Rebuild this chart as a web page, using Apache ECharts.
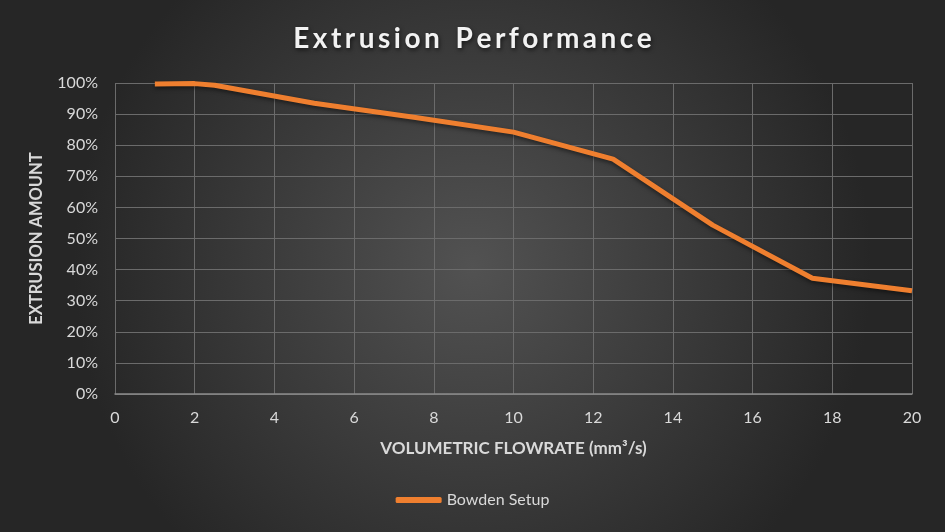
<!DOCTYPE html>
<html>
<head>
<meta charset="utf-8">
<script src="https://cdn.jsdelivr.net/npm/echarts@6/dist/echarts.min.js"></script>
<style>
  html,body{margin:0;padding:0;background:#333;}
  #chart{width:945px;height:532px;}
</style>
</head>
<body>
<div id="chart"></div>
<script>
// ---- data ----
const flowrate = [1, 2, 2.5, 5, 7.5, 10, 12.5, 15, 17.5, 20];
const extrusion = [0.997, 0.998, 0.993, 0.935, 0.89, 0.842, 0.755, 0.543, 0.372, 0.332];
const seriesName = 'Bowden Setup';
const titleText = 'Extrusion Performance';

const chart = echarts.init(document.getElementById('chart'));
const txt = '#d9d9d9';
const font = 'Lato, "Open Sans", sans-serif';

// spread title letters a bit (Excel-style character spacing)
const spaced = titleText.split(' ').map(w => w.split('').join('\u200A\u200A')).join('\u2002\u200A');

chart.setOption({
  animation: false,
  backgroundColor: {
    type: 'radial', x: 0.5, y: 0.5, r: 0.75,
    colorStops: [
      { offset: 0, color: '#525252' },
      { offset: 1, color: '#262626' }
    ]
  },
  title: {
    text: spaced,
    left: 'center', top: 20,
    textStyle: {
      color: '#f2f2f2', fontSize: 28, fontWeight: 'bold', fontFamily: font,
      textShadowColor: 'rgba(0,0,0,0.6)', textShadowBlur: 4, textShadowOffsetX: 1, textShadowOffsetY: 2
    }
  },
  legend: {
    bottom: 19, left: 'center',
    itemWidth: 46, itemHeight: 6, itemGap: 2,
    icon: 'roundRect',
    textStyle: { color: txt, fontSize: 16, fontFamily: font },
    data: [seriesName]
  },
  grid: { left: 115, right: 33, top: 83, bottom: 138 },
  xAxis: {
    type: 'value', min: 0, max: 20, interval: 2,
    name: 'VOLUMETRIC FLOWRATE (mm³/s)', nameLocation: 'middle', nameGap: 46,
    nameTextStyle: { color: txt, fontSize: 17, fontWeight: 'bold', fontFamily: font },
    axisLine: { show: true, lineStyle: { color: '#8a8a8a', width: 1.5 } },
    axisTick: { show: false },
    axisLabel: { color: txt, fontSize: 16, margin: 16, fontFamily: font },
    splitLine: { show: true, lineStyle: { color: '#6b6b6b', width: 1 } }
  },
  yAxis: {
    type: 'value', min: 0, max: 1, interval: 0.1,
    name: 'EXTRUSION AMOUNT', nameLocation: 'middle', nameGap: 70,
    nameTextStyle: { color: txt, fontSize: 16.5, fontWeight: 'bold', fontFamily: font },
    axisLine: { show: false },
    axisTick: { show: false },
    axisLabel: { color: txt, fontSize: 16, margin: 17, fontFamily: font,
      formatter: v => Math.round(v * 100) + '%' },
    splitLine: { show: true, lineStyle: { color: '#6b6b6b', width: 1 } }
  },
  series: [{
    name: seriesName,
    type: 'line',
    data: flowrate.map((x, i) => [x, extrusion[i]]),
    showSymbol: false,
    symbol: 'none',
    lineStyle: {
      color: '#ef7f2f', width: 5,
      shadowColor: 'rgba(0,0,0,0.5)', shadowBlur: 4, shadowOffsetY: 2
    },
    itemStyle: { color: '#ef7f2f' }
  }]
});
</script>
</body>
</html>
